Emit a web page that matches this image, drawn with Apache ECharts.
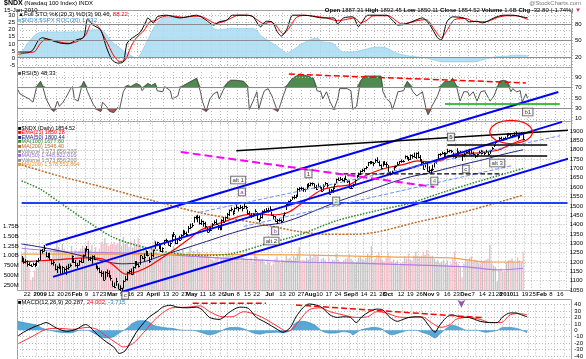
<!DOCTYPE html>
<html><head><meta charset="utf-8">
<script src="https://cdn.jsdelivr.net/npm/echarts@6/dist/echarts.min.js"></script>
<style>html,body{margin:0;padding:0;background:#fff}#c{width:586px;height:359px}</style>
</head><body><div id="c"></div><script>
// ---------- categories ----------
const holidays = ['2008-12-25','2009-01-01','2009-01-19','2009-02-16','2009-04-10','2009-05-25','2009-07-03','2009-09-07','2009-11-26','2009-12-25','2010-01-01','2010-01-18','2010-02-15'];
const startDate = '2008-12-17', endDate = '2010-02-19';
const tickLabels = {'2008-12-22':'22','2009-01-02':'2009','2009-01-12':'12','2009-01-20':'20','2009-01-26':'26','2009-02-02':'Feb','2009-02-09':'9','2009-02-17':'17','2009-02-23':'23','2009-03-02':'Mar','2009-03-09':'9','2009-03-16':'16','2009-03-23':'23','2009-04-01':'April','2009-04-13':'13','2009-04-20':'20','2009-04-27':'27','2009-05-01':'May','2009-05-11':'11','2009-05-18':'18','2009-05-26':'26','2009-06-01':'Jun','2009-06-08':'8','2009-06-15':'15','2009-06-22':'22','2009-07-01':'Jul','2009-07-13':'13','2009-07-20':'20','2009-07-27':'27','2009-08-03':'Aug','2009-08-10':'10','2009-08-17':'17','2009-08-24':'24','2009-09-01':'Sep','2009-09-08':'8','2009-09-14':'14','2009-09-21':'21','2009-09-28':'28','2009-10-01':'Oct','2009-10-12':'12','2009-10-19':'19','2009-10-26':'26','2009-11-02':'Nov','2009-11-09':'9','2009-11-16':'16','2009-11-23':'23','2009-12-01':'Dec','2009-12-07':'7','2009-12-14':'14','2009-12-21':'21','2009-12-28':'28','2010-01-04':'2010','2010-01-11':'11','2010-01-19':'19','2010-01-25':'25','2010-02-01':'Feb','2010-02-08':'8','2010-02-16':'16'};
const boldLabels = ['2009','Feb','Mar','April','May','Jun','Jul','Aug','Sep','Oct','Nov','Dec','2010'];

// ---------- price (daily, Dec 17 2008 .. Jan 15 2010) ----------
const close = [1215,1200,1205,1190,1185,1180,1190,1185,1205,1212,
1262,1258,1272,1232,1245,1218,1195,1200,1160,1175,1178,1135,1175,1160,1165,1172,1185,1230,1200,1182,
1185,1205,1200,1235,1265,1268,1215,1220,1232,1218,1168,1165,1145,1142,1105,1145,1142,1120,1115,
1072,1068,1098,1058,1060,1043,1100,1108,1145,1150,1133,1175,1190,1188,1178,1235,1220,1228,1260,1238,1205,1237,
1262,1298,1305,1295,1258,1272,1315,1318,1292,1302,1340,1352,1300,1325,1318,1342,1365,1355,1350,1380,1388,
1400,1440,1438,1442,1408,1418,1410,1392,1360,1378,1370,1405,1412,1405,1385,1378,1425,1415,1438,1458,
1478,1482,1462,1490,1495,1488,1495,1488,1498,1492,1462,1452,1445,1455,1475,1428,1422,1440,1470,1475,1480,1478,
1485,1450,1448,1418,1422,1425,1418,1450,1462,1510,1525,1532,1545,1550,1555,1590,1598,1595,1592,1588,1608,1612,
1620,1622,1602,1590,1608,1600,1580,1608,1622,1610,1565,1585,1598,1615,1642,1640,1642,1638,1648,1645,1632,
1598,1598,1615,1640,1660,1672,1688,1690,1700,1708,1732,1728,1732,1730,1745,1735,1718,1705,1732,1725,1722,
1680,1672,1682,1708,1712,1725,1738,1742,1740,1768,1762,1748,1772,1765,1762,1782,1762,1745,1735,1698,1728,1688,
1692,1690,1698,1735,1742,1775,1778,1782,1765,1780,1795,1798,1792,1765,1760,1790,1785,1788,1770,1775,
1790,1792,1775,1782,1775,1765,1778,1790,1782,1788,1780,1792,1775,1798,1812,1825,1840,1852,1862,1858,1862,1860,
1886,1886,1876,1878,1892,1887,1866,1884,1888,1855];
const high = [1232,1222,1215,1208,1198,1188,1195,1195,1210,1222,
1265,1270,1290,1255,1248,1250,1215,1210,1190,1180,1192,1180,1178,1170,1180,1190,1192,1235,1222,1210,
1195,1210,1222,1240,1272,1285,1270,1228,1235,1235,1190,1180,1170,1155,1150,1150,1160,1155,1130,
1100,1090,1115,1085,1075,1062,1102,1125,1148,1158,1165,1176,1205,1205,1192,1236,1232,1245,1262,1255,1225,1250,
1265,1310,1308,1302,1290,1278,1318,1325,1312,1305,1348,1360,1342,1328,1340,1348,1372,1368,1362,1392,1405,
1408,1442,1448,1452,1448,1428,1420,1415,1385,1385,1388,1408,1422,1428,1398,1395,1428,1440,1442,1462,
1480,1492,1475,1492,1510,1495,1505,1500,1512,1500,1480,1472,1460,1462,1482,1465,1432,1458,1475,1482,1488,1490,
1498,1468,1452,1445,1430,1435,1428,1452,1465,1512,1528,1535,1550,1558,1560,1595,1600,1602,1598,1592,1618,1622,
1625,1625,1620,1612,1620,1608,1595,1615,1628,1622,1592,1590,1602,1618,1645,1652,1655,1648,1650,1662,1638,
1640,1610,1618,1642,1665,1678,1690,1698,1702,1712,1735,1740,1740,1735,1752,1760,1742,1722,1738,1740,1735,
1718,1685,1688,1712,1715,1735,1740,1748,1745,1770,1768,1758,1775,1775,1785,1785,1790,1772,1750,1738,1732,1730,
1712,1698,1720,1740,1748,1778,1782,1790,1788,1785,1805,1800,1800,1785,1768,1808,1792,1795,1778,1785,
1800,1800,1805,1805,1790,1775,1782,1795,1798,1795,1790,1800,1790,1800,1815,1828,1842,1852,1868,1870,1865,1870,
1888,1890,1888,1880,1893,1898,1880,1890,1895,1893];
const low = [1200,1190,1192,1175,1180,1175,1180,1172,1183,1198,
1208,1245,1255,1225,1220,1212,1185,1180,1155,1140,1162,1133,1135,1142,1130,1158,1172,1195,1195,1175,
1165,1180,1195,1195,1232,1255,1205,1205,1190,1212,1165,1155,1140,1120,1102,1105,1120,1118,1100,
1070,1060,1072,1055,1045,1038,1058,1095,1100,1135,1130,1132,1165,1180,1170,1185,1215,1205,1232,1230,1195,1210,
1225,1270,1285,1268,1255,1250,1290,1302,1288,1280,1305,1335,1295,1295,1312,1318,1340,1345,1338,1355,1375,
1385,1410,1428,1412,1400,1398,1388,1378,1358,1358,1365,1382,1402,1398,1372,1370,1370,1412,1415,1430,
1445,1470,1450,1465,1482,1470,1482,1470,1485,1482,1455,1450,1435,1440,1465,1425,1412,1428,1432,1462,1470,1465,
1478,1448,1430,1415,1402,1415,1408,1418,1445,1478,1505,1520,1532,1535,1540,1548,1575,1585,1575,1575,1590,1598,
1605,1608,1592,1585,1598,1592,1575,1580,1610,1598,1562,1568,1570,1598,1622,1635,1635,1630,1625,1638,1622,
1595,1590,1600,1615,1648,1655,1665,1680,1680,1695,1712,1722,1725,1712,1730,1732,1712,1698,1710,1718,1705,
1678,1662,1668,1688,1702,1715,1722,1730,1732,1752,1748,1740,1745,1752,1760,1750,1755,1738,1720,1695,1705,1685,
1675,1672,1690,1705,1725,1750,1765,1775,1760,1768,1780,1785,1782,1758,1752,1775,1772,1782,1740,1760,
1780,1785,1772,1765,1770,1755,1760,1780,1775,1780,1772,1785,1770,1778,1800,1815,1830,1842,1850,1855,1848,1858,
1865,1875,1870,1862,1868,1875,1855,1862,1878,1850];
// volume, billions
const volume = [1.05,0.98,1.25,0.85,0.72,0.38,0.45,0.62,0.70,0.72,
0.85,1.10,1.28,1.05,0.98,0.95,0.92,1.08,1.20,1.35,1.22,1.15,1.30,1.18,1.12,1.05,1.08,1.25,1.02,1.15,
1.05,1.12,1.18,1.25,1.20,1.10,1.38,1.15,1.28,1.05,1.22,1.10,1.18,1.35,1.30,1.45,1.32,1.25,1.28,
1.30,1.35,1.28,1.32,1.40,1.25,1.48,1.30,1.35,1.22,1.38,1.20,1.42,1.30,1.45,1.28,1.10,1.25,1.18,1.05,1.15,1.20,
1.25,1.40,1.10,1.05,1.00,0.95,1.08,0.98,1.05,1.10,1.15,1.25,1.02,1.08,1.12,1.05,1.18,0.98,1.00,1.10,1.20,
1.00,1.12,0.95,1.15,1.10,1.05,0.98,1.02,1.08,0.95,0.92,0.90,0.88,0.95,1.00,0.75,0.95,1.02,0.98,1.05,
1.05,1.00,1.02,0.98,0.95,0.92,0.88,1.00,0.95,0.90,0.92,0.88,0.95,0.85,1.15,0.98,0.90,0.88,0.92,0.85,0.78,0.88,
0.82,0.75,0.80,0.92,0.98,0.85,0.82,0.88,0.85,1.00,0.92,0.95,0.88,1.00,0.95,1.05,1.22,0.85,0.90,0.88,0.95,0.90,
1.00,0.95,1.05,1.02,0.98,0.85,0.92,0.95,0.90,0.82,0.95,0.85,0.90,0.88,1.05,0.90,0.85,0.82,0.88,0.92,0.95,
1.05,0.92,0.88,0.80,0.85,0.95,0.98,0.92,0.88,0.95,1.05,1.00,1.25,0.85,0.92,1.02,1.10,0.95,0.88,0.85,0.95,
1.08,0.98,0.85,0.90,0.82,0.88,0.75,0.80,0.85,0.98,0.92,1.05,0.90,0.88,1.00,1.10,1.00,0.98,1.00,1.10,1.02,1.15,
1.05,0.98,1.00,0.92,0.85,0.88,0.82,0.85,0.90,0.80,0.88,0.75,0.80,0.92,1.10,0.85,0.78,0.72,0.45,0.80,
0.92,0.88,0.95,0.98,0.85,0.90,0.88,0.82,0.80,0.85,0.88,0.90,0.92,1.28,0.80,0.75,0.72,0.35,0.62,0.68,0.60,0.62,
0.82,0.88,0.90,0.92,0.85,0.80,0.95,0.88,0.82,1.10];

// ---------- overlays: [day index, value] ----------
const ema21 = [[0,1200],[8,1205],[20,1212],[35,1222],[44,1215],[50,1180],[56,1135],[63,1150],[70,1184],[82,1262],[90,1320],[97,1372],[105,1400],[113,1428],[120,1450],[127,1458],[134,1452],[140,1455],[145,1470],[153,1525],[162,1585],[171,1605],[177,1612],[183,1648],[190,1680],[198,1705],[206,1720],[214,1740],[220,1735],[226,1742],[231,1760],[240,1778],[249,1785],[258,1800],[265,1832],[271,1855]];
const ema50 = [[0,1296],[10,1280],[26,1248],[44,1205],[54,1190],[65,1198],[76,1235],[90,1278],[100,1310],[114,1355],[127,1390],[140,1408],[150,1440],[160,1480],[170,1520],[180,1555],[190,1590],[200,1625],[210,1655],[220,1675],[230,1700],[240,1725],[250,1748],[260,1775],[271,1800]];
const ma100 = [[0,1633],[10,1590],[21,1515],[35,1420],[49,1334],[60,1295],[70,1270],[80,1250],[90,1238],[100,1235],[114,1245],[130,1290],[150,1345],[170,1420],[190,1470],[210,1515],[230,1580],[250,1640],[271,1700]];
const ma200 = [[0,1719],[22,1655],[44,1600],[70,1530],[97,1462],[127,1408],[150,1362],[165,1348],[180,1348],[193,1362],[214,1414],[240,1470],[271,1558]];
const volMa50 = [[0,1.19],[22,1.10],[44,1.08],[70,1.05],[97,0.97],[124,0.90],[150,0.84],[180,0.81],[215,0.76],[242,0.71],[251,0.66],[258,0.64],[271,0.68]];
const volMa200 = [[0,1.04],[44,1.04],[97,1.03],[150,1.02],[198,0.97],[233,0.94],[251,0.84],[271,0.84]];

const stoK = [[0,29],[6,29],[8,33],[11,51],[13,55],[17,51],[23,45],[27,44],[31,51],[35,56],[37,89],[40,78],[44,69],[47,38],[50,15],[53,9],[56,11],[58,45],[61,55],[65,65],[68,84],[69,91],[72,82],[74,93],[76,95],[79,96],[83,93],[86,91],[90,93],[95,96],[100,87],[104,78],[107,84],[111,87],[114,96],[122,96],[125,93],[129,75],[132,85],[135,84],[138,65],[140,58],[143,71],[146,96],[150,96],[155,95],[162,91],[168,91],[170,80],[173,91],[178,93],[181,75],[183,84],[186,96],[196,96],[199,87],[202,78],[206,80],[210,85],[215,91],[219,78],[223,55],[225,51],[228,84],[231,93],[237,91],[240,84],[244,85],[247,82],[253,91],[258,96],[263,96],[268,93],[271,91]];
const stoD = [[0,25],[6,28],[9,30],[12,45],[15,53],[19,50],[24,46],[28,45],[32,49],[36,60],[39,80],[42,78],[45,62],[48,42],[51,22],[54,12],[57,14],[60,38],[63,55],[67,68],[70,84],[73,86],[76,92],[80,95],[84,94],[88,92],[92,94],[97,94],[102,86],[105,81],[109,84],[113,90],[117,96],[124,95],[127,88],[131,80],[134,84],[137,78],[141,62],[144,72],[148,92],[152,96],[158,94],[164,91],[170,86],[174,88],[179,91],[182,82],[185,86],[189,95],[197,95],[201,86],[204,80],[208,82],[212,86],[217,88],[221,72],[225,55],[228,68],[232,88],[238,90],[242,85],[246,84],[250,85],[255,92],[260,95],[265,95],[271,88]];
const relArea = [[0,0],[8,15],[13,18.5],[31,18.5],[40,20],[44,20],[50,11.4],[58,3.5],[61,1],[63,0],[69,13],[74,25],[79,29],[97,28],[100,25.5],[106,20],[114,21],[125,21],[130,15],[138,8],[143,3.5],[146,5.6],[150,9.2],[155,12.8],[159,14],[162,11.4],[167,10.6],[173,4.3],[178,4.3],[183,5.6],[191,7.8],[196,7],[201,3.5],[208,1.4],[217,0],[221,-1.4],[226,-2.8],[233,-2.8],[242,-2.8],[247,-1.4],[253,0.6],[260,1.4],[268,2],[271,1.5]];

const rsi = [[0,66],[1,58],[4,52],[6,48],[8,42],[10,72],[12,82],[13,74],[15,48],[17,34],[19,24],[21,44],[22,34],[24,42],[26,54],[28,68],[29,72],[30,48],[32,44],[34,74],[35,82],[37,62],[38,54],[40,38],[42,28],[44,24],[45,42],[47,34],[49,24],[51,22],[53,32],[54,28],[56,62],[58,74],[60,72],[61,74],[63,78],[65,74],[66,64],[69,78],[71,74],[73,78],[74,64],[77,62],[78,72],[81,64],[82,48],[85,54],[86,68],[88,74],[90,78],[93,84],[95,88],[97,62],[98,44],[100,24],[102,48],[104,58],[106,62],[107,48],[109,64],[111,78],[113,84],[116,84],[120,82],[122,74],[123,28],[125,44],[127,62],[128,28],[130,54],[131,64],[133,68],[135,54],[138,24],[139,32],[141,54],[143,74],[145,84],[146,88],[148,92],[150,96],[154,92],[157,88],[159,64],[161,62],[162,48],[164,62],[166,42],[168,28],[170,48],[171,68],[175,68],[177,64],[178,28],[180,34],[182,82],[184,92],[187,92],[191,92],[193,92],[194,62],[196,48],[198,42],[199,28],[200,38],[202,62],[205,64],[207,82],[208,84],[210,62],[212,54],[215,62],[217,28],[218,18],[220,34],[223,54],[225,74],[227,82],[230,82],[231,88],[233,74],[235,44],[237,62],[239,62],[240,54],[242,62],[244,44],[246,62],[248,64],[251,44],[253,54],[255,72],[256,82],[258,84],[260,82],[262,62],[263,68],[265,62],[267,64],[268,42],[270,58],[271,48]];

const macd = [[0,-9],[3,-3],[8,4.5],[12,9],[15,12],[19,6],[22,1.5],[26,-1.5],[31,1.5],[36,9],[38,6],[41,-3],[44,-11],[47,-18],[51,-26],[54,-36],[57,-32],[60,-18],[63,-3],[67,12],[70,21],[74,29],[77,36],[81,39],[85,36],[90,35],[95,36],[98,32],[102,20],[107,17],[113,29],[118,36],[122,35],[127,20],[132,12],[138,1.5],[141,-3],[145,4.5],[148,21],[152,36],[155,41],[159,39],[162,35],[166,24],[170,20],[173,21],[177,20],[180,12],[183,21],[187,29],[191,33],[194,32],[198,20],[202,14],[205,17],[208,20],[212,21],[215,20],[219,6],[222,-3],[224,6],[228,20],[231,24],[235,21],[240,20],[246,14],[251,12],[255,12],[258,21],[262,27],[265,27],[268,24],[271,21]];
const macdSignal = [[0,-21],[8,-9],[15,1.5],[22,3],[29,1.5],[37,4.5],[42,1.5],[47,-9],[53,-21],[56,-26],[61,-21],[67,-3],[72,14],[77,27],[82,35],[90,36],[97,38],[102,29],[109,21],[114,21],[120,29],[127,24],[132,17],[139,4.5],[143,-1.5],[146,1.5],[150,16],[155,32],[161,35],[166,29],[173,24],[180,20],[186,21],[191,29],[196,27],[202,21],[208,20],[215,21],[220,12],[225,4.5],[230,9],[233,17],[239,20],[246,17],[251,12],[257,12],[262,24],[267,26],[271,24]];
const macdHist = [[0,14],[5,11],[10,8],[13,3],[17,0],[22,-3],[28,-4],[33,0],[37,0],[40,-4],[44,-10],[47,-12],[51,-10],[54,-4],[58,3],[61,11],[65,15],[69,14],[72,8],[77,4.5],[82,3],[88,0],[93,0],[98,-4],[102,-7],[106,-4],[111,3],[114,4.5],[118,4],[122,0],[125,-4],[129,-6],[132,-4],[138,-3],[141,-4],[145,0],[148,12],[152,14],[155,12],[159,6],[162,-1.5],[166,-4.5],[170,-4],[173,-2],[177,-4],[178,-7],[182,0],[186,3],[189,4.5],[193,3],[196,-3],[199,-7],[203,-4],[208,0],[212,0],[215,-3],[219,-7],[222,-12],[224,-7],[228,3],[231,8],[235,4.5],[239,0],[244,0],[249,-3],[255,0],[258,4.5],[262,4.5],[267,1.5],[271,-4]];

// ---------- hand-drawn lines: endpoints [day index, value] ----------
const priceLines = [
 {pts:[[12.8,1291],[289.8,2109]], color:'#0000ff', w:2, type:'solid'},
 {pts:[[17,1120],[292,1949]], color:'#0000ff', w:2, type:'solid'},
 {pts:[[54.3,1039],[302,1772]], color:'#0000ff', w:2, type:'solid'},
 {pts:[[0,1515],[295,1515]], color:'#2040ff', w:2, type:'solid'},
 {pts:[[96,1465],[291,1875]], color:'#7090ff', w:1, type:'dashed'},
 {pts:[[120,1390],[265,1715]], color:'#7090ff', w:1, type:'dashed'},
 {pts:[[116,1795],[302,1909]], color:'#000', w:1.5, type:'solid'},
 {pts:[[230,1826],[284,1826]], color:'#000', w:1.5, type:'solid'},
 {pts:[[230,1767],[284,1767]], color:'#000', w:1.5, type:'solid'},
 {pts:[[170,1671],[260,1671]], color:'#000', w:1.2, type:'dashed'},
 {pts:[[86,1788],[222.8,1601]], color:'#ff00ff', w:2, type:'dashed'}
];
const rsiLines = [
 {pts:[[143.6,96],[269.6,79]], color:'#ff0000', w:1.5, type:'dashed'},
 {pts:[[227,38.5],[288,38.5]], color:'#00aa00', w:1.5, type:'solid'}
];
const macdLines = [
 {pts:[[92.5,42],[132.4,42]], color:'#ff0000', w:1.5, type:'dashed'},
 {pts:[[148.4,39.4],[247.2,19.7]], color:'#ff0000', w:1.5, type:'dashed'}
];
const notes = [[116.5,1638,'alt 1','#000'],[118.6,1574,'a','#8000a0'],[136.7,1366,'b','#8000a0'],[134.5,1312,'alt 2','#000'],[154.7,1671,'1','#000'],[169.6,1526,'2','#208020'],[232.4,1868,'5','#000'],[240.3,1697,'c','#000'],[223.3,1633,'4','#208020'],[256.8,1729,'alt 3','#000'],[56,1022,'c','#000']];
const rsiNotes = [[271,23,'b1','#000']];
const ellipseBox = [[252.5,276,1957,1833]];

// ---------- build ----------
function tradingDays(){const out=[];let d=new Date(startDate+'T00:00:00Z');const e=new Date(endDate+'T00:00:00Z');
 while(d<=e){const w=d.getUTCDay();const s=d.toISOString().slice(0,10);if(w!==0&&w!==6&&holidays.indexOf(s)<0)out.push(s);d=new Date(d.getTime()+86400000);}return out;}
const dates = tradingDays();
const F = '"Liberation Sans", Arial, sans-serif';
const GRID = '#b8b8b8';
function xAx(g, labels, split){
 return {type:'category', gridIndex:g, data:dates, boundaryGap:true,
  axisLine:{show:false}, axisTick:{show:false},
  axisLabel:{show:labels, interval:(i,v)=>tickLabels[v]!==undefined, margin:1, fontSize:6, fontFamily:F, color:'#000',
    formatter:(v)=>{const t=tickLabels[v]; if(t===undefined) return ''; return boldLabels.indexOf(t)>=0?'{b|'+t+'}':t;},
    rich:{b:{fontWeight:'bold',fontSize:6,fontFamily:F,color:'#000'}}},
  splitLine:{show:split, interval:(i,v)=>tickLabels[v]!==undefined, lineStyle:{color:GRID,type:[1,2],width:1}}};
}
const L = 17, R = 14;
const grids = [
 {left:L,right:R,top:13,height:55},
 {left:L,right:R,top:15.7,height:49.3},
 {left:L,right:R,top:72,height:52},
 {left:L,right:R,top:121.7,height:168.3},
 {left:L,right:R,top:304.6,height:52.8}
];
const lab = {fontSize:6,fontFamily:F,color:'#000',margin:3};
const yAxes = [
 {gridIndex:0,type:'value',position:'right',min:0,max:100,interval:10,axisLine:{show:false},axisTick:{show:false},splitLine:{show:false},
  axisLabel:Object.assign({},lab,{formatter:v=>(v===20||v===50||v===80)?String(v):''})},
 {gridIndex:1,type:'value',position:'left',min:-5,max:30,interval:5,axisLine:{show:false},axisTick:{show:false},
  splitLine:{show:true,lineStyle:{color:GRID,type:[1,2]}},axisLabel:Object.assign({},lab,{margin:2})},
 {gridIndex:2,type:'value',position:'right',min:0,max:100,interval:10,axisLine:{show:false},axisTick:{show:false},splitLine:{show:false},
  axisLabel:Object.assign({},lab,{formatter:v=>([10,30,50,70,90].indexOf(v)>=0)?String(v):''})},
 {gridIndex:3,type:'value',position:'right',min:1050,max:1950,interval:50,axisLine:{show:false},axisTick:{show:false},
  splitLine:{show:true,lineStyle:{color:GRID,type:[1,2]}},axisLabel:Object.assign({},lab,{formatter:v=>v===1950?'':String(v)})},
 {gridIndex:3,type:'value',position:'left',min:0.127,max:4.41,axisLine:{show:false},axisTick:{show:false},splitLine:{show:false},
  axisLabel:Object.assign({},lab,{margin:2,customValues:[0.25,0.5,0.75,1,1.25,1.5,1.75],
   formatter:v=>v>=1?v.toFixed(2)+'B':Math.round(v*1000)+'M'})},
 {gridIndex:4,type:'value',position:'right',min:-40,max:40,interval:10,axisLine:{show:false},axisTick:{show:false},
  splitLine:{show:true,lineStyle:{color:GRID,type:[1,2]}},axisLabel:lab}
];
const xAxes = [xAx(0,false,true),xAx(1,false,false),xAx(2,false,true),xAx(3,true,true),xAx(4,false,true)];

function ln(name,xi,yi,data,color,w,extra){return Object.assign({name:name,type:'line',xAxisIndex:xi,yAxisIndex:yi,data:data,symbol:'none',
  lineStyle:{color:color,width:w},itemStyle:{color:color},clip:false,silent:true,animation:false,z:3},extra||{});}

const series = [];
// STO panel
series.push(ln('rel',1,1,relArea,'#7ec6ea',0.6,{smooth:0.3,z:1,areaStyle:{color:'#a9dcf3',opacity:0.85}}));
series.push(ln('stoD',0,0,stoD,'#ff0000',1,{smooth:0.25,z:3}));
series.push(ln('stoK',0,0,stoK,'#000',1,{smooth:0.25,z:4,markLine:{silent:true,symbol:'none',label:{show:false},
  data:[{yAxis:80},{yAxis:50},{yAxis:20}],lineStyle:{color:'#8c8c8c',type:'solid',width:1}}}));
// RSI panel
series.push(ln('rsiUp',2,2,rsi.map(p=>[p[0],Math.max(p[1],70)]),'#2e6b2e',0.5,{z:2,areaStyle:{color:'#4f8a4f',opacity:1,origin:70}}));
series.push(ln('rsiDn',2,2,rsi.map(p=>[p[0],Math.min(p[1],30)]),'#8b3030',0.5,{z:2,areaStyle:{color:'#b5524a',opacity:1,origin:30}}));
series.push(ln('rsi',2,2,rsi,'#555',1,{z:3,markLine:{silent:true,symbol:'none',label:{show:false},animation:false,
  data:[{yAxis:70,lineStyle:{color:'#8c8c8c',type:'solid',width:1}},{yAxis:30,lineStyle:{color:'#8c8c8c',type:'solid',width:1}},
        {yAxis:90,lineStyle:{color:GRID,type:[1,2],width:1}},{yAxis:50,lineStyle:{color:GRID,type:[1,2],width:1}},{yAxis:10,lineStyle:{color:GRID,type:[1,2],width:1}}]}}));
rsiLines.forEach((l,i)=>series.push(ln('rl'+i,2,2,l.pts,l.color,l.w,{z:6,lineStyle:{color:l.color,width:l.w,type:l.type}})));
// volume
series.push({name:'vol',type:'bar',xAxisIndex:3,yAxisIndex:4,barWidth:1.3,silent:true,animation:false,z:1,
  data:volume.map((v,i)=>({value:[i,v],itemStyle:{color:(i>0&&close[i]<close[i-1])?'#f6b9c6':'#c4c4c4'}}))});
series.push(ln('vma50',3,4,volMa50,'#b07ce8',1.2,{smooth:0.3,z:2}));
series.push(ln('vma200',3,4,volMa200,'#f2a24a',1.2,{smooth:0.3,z:2}));
// moving averages on price
series.push(ln('ma200',3,3,ma200,'#c06a28',1.5,{smooth:0.3,z:2,lineStyle:{color:'#c06a28',width:1.5,type:[2,1.5]}}));
series.push(ln('ma100',3,3,ma100,'#2a8a2a',1.5,{smooth:0.3,z:2,lineStyle:{color:'#2a8a2a',width:1.5,type:[1.5,1.5]}}));
series.push(ln('ema50',3,3,ema50,'#202080',1,{smooth:0.3,z:3}));
series.push(ln('ema21',3,3,ema21,'#ff0000',1.2,{smooth:0.3,z:3}));
// price bars (HLC)
series.push({name:'price',type:'custom',xAxisIndex:3,yAxisIndex:3,silent:true,animation:false,z:4,clip:false,
  data:close.map((c,i)=>[i,low[i],high[i],c]),encode:{x:0,y:[1,2,3]},
  renderItem:function(params,api){
    const lo=api.coord([api.value(0),api.value(1)]), hi=api.coord([api.value(0),api.value(2)]), cl=api.coord([api.value(0),api.value(3)]);
    const x=Math.round(lo[0])+0.5;
    return {type:'group',children:[
      {type:'line',shape:{x1:x,y1:lo[1],x2:x,y2:hi[1]},style:{stroke:'#000',lineWidth:1}},
      {type:'line',shape:{x1:x,y1:Math.round(cl[1])+0.5,x2:x+1.5,y2:Math.round(cl[1])+0.5},style:{stroke:'#000',lineWidth:1}}]};
  }});
priceLines.forEach((l,i)=>series.push(ln('pl'+i,3,3,l.pts,l.color,l.w,{z:5,lineStyle:{color:l.color,width:l.w,type:l.type}})));
// ellipse
series.push({name:'ellipse',type:'custom',xAxisIndex:3,yAxisIndex:3,silent:true,animation:false,z:6,clip:false,data:ellipseBox,
  renderItem:function(params,api){
    const a=api.coord([api.value(0),api.value(2)]), b=api.coord([api.value(1),api.value(3)]);
    const cx=(a[0]+b[0])/2, cy=(a[1]+b[1])/2, rx=Math.abs(b[0]-a[0])/2, ry=Math.abs(b[1]-a[1])/2, pts=[];
    for(let k=0;k<48;k++){const t=k/48*Math.PI*2; pts.push([cx+rx*Math.cos(t),cy+ry*Math.sin(t)]);}
    return {type:'polygon',shape:{points:pts},style:{fill:'none',stroke:'#ff0000',lineWidth:1.2}};
  }});
function noteSeries(name,xi,yi,data){return {name:name,type:'scatter',xAxisIndex:xi,yAxisIndex:yi,symbolSize:0,silent:true,animation:false,z:8,clip:false,
  data:data.map(n=>({value:[n[0],n[1]],label:{show:true,position:'inside',formatter:n[2],color:n[3],fontSize:6,fontFamily:F,
    backgroundColor:'#fff',borderColor:'#333',borderWidth:0.8,padding:[0,1.5,0,1.5],lineHeight:7}}))};}
series.push(noteSeries('notes',3,3,notes));
series.push(noteSeries('rsinotes',2,2,rsiNotes));
// MACD
series.push(ln('hist',4,5,macdHist,'#2e86c1',0.6,{smooth:0.3,z:1,areaStyle:{color:'#3a9ad0',opacity:0.85}}));
series.push(ln('signal',4,5,macdSignal,'#ff3030',1,{smooth:0.3,z:3}));
series.push(ln('macd',4,5,macd,'#000',1,{smooth:0.3,z:4}));
macdLines.forEach((l,i)=>series.push(ln('ml'+i,4,5,l.pts,l.color,l.w,{z:5,lineStyle:{color:l.color,width:l.w,type:l.type}})));
series.push({name:'arrow',type:'scatter',xAxisIndex:4,yAxisIndex:5,silent:true,animation:false,z:6,clip:false,
  data:[[236,35]],symbol:'arrow',symbolRotate:180,symbolSize:[6,8],itemStyle:{color:'#7a2d9a'}});

// ---------- texts ----------
function txt(x,y,t,rich,extra){return Object.assign({type:'text',x:x,y:y,silent:true,z:100,
  style:{text:t,fontSize:6,fontFamily:F,fill:'#000',rich:rich||{}}},extra||{});}
const sq = (c)=>({fill:c,fontSize:6,fontFamily:F});
const mainLegend = [
 ['#000','$NDX (Daily) 1854.52'],['#ff0000','EMA(21) 1850.28'],['#202080','EMA(50) 1800.44'],['#2a8a2a','MA(100) 1677.60'],
 ['#c06a28','MA(200) 1546.40'],['#888','Volume 1,573,856,200'],['#9a66dd','MA(50) 1,448,822,016'],['#888','Volume 1,573,856,200'],['#e8922e','MA(200) 1,578,552,864']];
const graphics = [
 {type:'rect',shape:{x:17.5,y:10.5,width:554,height:57},style:{fill:'none',stroke:'#a0a0a0',lineWidth:1},silent:true,z:0},
 {type:'rect',shape:{x:17.5,y:67.5,width:554,height:54},style:{fill:'none',stroke:'#a0a0a0',lineWidth:1},silent:true,z:0},
 {type:'rect',shape:{x:17.5,y:121.5,width:554,height:169},style:{fill:'none',stroke:'#a0a0a0',lineWidth:1},silent:true,z:0},
 {type:'rect',shape:{x:17.5,y:299.5,width:554,height:60},style:{fill:'none',stroke:'#a0a0a0',lineWidth:1},silent:true,z:0},
 txt(4,0,'{t|$NDX} (Nasdaq 100 Index) INDX',{t:{fontWeight:'bold',fontSize:7,fontFamily:F,fill:'#000'}}),
 txt(4,7,'15-Jan-2010'),
 txt(18,11.5,'{k|▲}Full STO %K(20,3) %D(3) 90.46, {r|88.22}',{k:sq('#000'),r:{fill:'#ff0000',fontSize:6,fontFamily:F}}),
 txt(18,17,'{k|■}{b|$NDX:$SPX ROC(20) 1.532}',{k:sq('#7ec6ea'),b:{fill:'#3a8ad0',fontSize:6,fontFamily:F}}),
 txt(18,70.5,'{k|■}RSI(5) 48.33',{k:sq('#555')}),
 txt(18,299.5,'{k|■}MACD(12,26,9) 20.287, {r|24.002}, {b|-3.715}',{k:sq('#000'),r:{fill:'#ff0000',fontSize:6,fontFamily:F},b:{fill:'#2e86c1',fontSize:6,fontFamily:F}}),
 txt(581,0.5,'@StockCharts.com',null,{style:{text:'@StockCharts.com',fontSize:6,fontFamily:F,fill:'#777',align:'right'}}),
 {type:'text',x:581,y:7,silent:true,z:100,style:{align:'right',fontSize:6,fontFamily:F,fill:'#000',
   text:'{b|Open} 1887.31 {b|High} 1892.45 {b|Low} 1850.11 {b|Close} 1854.52 {b|Volume} 1.6B {b|Chg} -32.80 (-1.74%) {r|▼}',
   rich:{b:{fontWeight:'bold',fontSize:6,fontFamily:F},r:{fill:'#e0306a',fontSize:6,fontFamily:F}}}}
];
mainLegend.forEach((m,i)=>graphics.push(txt(18,125+4.6*i,'{k|■}{t|'+m[1]+'}',{k:sq(m[0]),t:{fill:m[0],fontSize:5.5,fontFamily:F}})));

const chart = echarts.init(document.getElementById('c'),null,{renderer:'canvas'});
chart.setOption({animation:false,backgroundColor:'#fff',grid:grids,xAxis:xAxes,yAxis:yAxes,series:series,graphic:graphics});
</script></body></html>
